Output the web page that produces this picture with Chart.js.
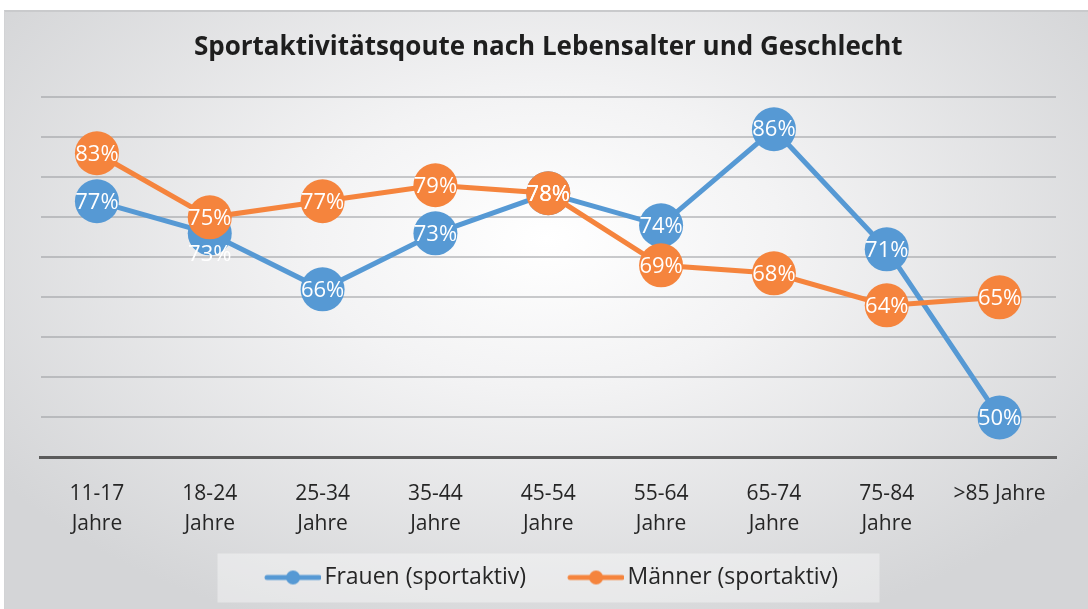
<!DOCTYPE html>
<html>
<head>
<meta charset="utf-8">
<script src="https://cdn.jsdelivr.net/npm/chart.js@4.4.1/dist/chart.umd.min.js"></script>
<style>
  html, body { margin: 0; padding: 0; background: #fff; }
  #frame {
    position: absolute; left: 4px; top: 10px; width: 1084px; height: 599px;
    background: radial-gradient(ellipse 62% 70% at 50% 38%, #ffffff 0%, #f3f3f4 35%, #d4d5d7 100%);
    border-top: 2px solid #c9cacc; border-left: 1px solid #d2d3d5; box-sizing: border-box;
  }
  canvas { display: block; }
</style>
</head>
<body>
<div id="frame"><canvas id="chart" width="1083" height="597"></canvas></div>
<script>
const ageGroups = [
  ['11-17', 'Jahre'], ['18-24', 'Jahre'], ['25-34', 'Jahre'], ['35-44', 'Jahre'],
  ['45-54', 'Jahre'], ['55-64', 'Jahre'], ['65-74', 'Jahre'], ['75-84', 'Jahre'], '>85 Jahre'
];
const frauen = [77, 73, 66, 73, 78, 74, 86, 71, 50];
const maenner = [83, 75, 77, 79, 78, 69, 68, 64, 65];

const BLUE = '#5699d4';
const ORANGE = '#f5843d';
const FONT = "'Open Sans'";

// legend symbol: line with a dot, drawn onto a small canvas
function legendSymbol(color) {
  const c = document.createElement('canvas');
  c.width = 96; c.height = 16;
  const g = c.getContext('2d');
  g.strokeStyle = color; g.fillStyle = color;
  g.lineWidth = 5; g.lineCap = 'round';
  g.beginPath(); g.moveTo(42, 8); g.lineTo(94, 8); g.stroke();
  g.beginPath(); g.arc(68, 8, 7, 0, Math.PI * 2); g.fill();
  return c;
}
const symbols = [legendSymbol(BLUE), legendSymbol(ORANGE)];

// the 73% label of Frauen sits below its point, like in the original
const labelShift = { '0-1': 20 };

// white percentage text in the middle of each point
const pointLabels = {
  id: 'pointLabels',
  afterDatasetsDraw(chart) {
    const ctx = chart.ctx;
    ctx.save();
    ctx.font = '22px ' + FONT;
    ctx.fillStyle = '#ffffff';
    ctx.textAlign = 'center';
    ctx.textBaseline = 'middle';
    chart.data.datasets.forEach((ds, di) => {
      const meta = chart.getDatasetMeta(di);
      meta.data.forEach((pt, i) => {
        const dy = labelShift[di + '-' + i] || 0;
        ctx.fillText(ds.data[i] + '%', pt.x, pt.y + dy + 1);
      });
    });
    ctx.restore();
  }
};

// light box behind the legend, title centred over the plot area
const legendBox = {
  id: 'legendBox',
  afterLayout(chart) {
    chart.titleBlock.left = chart.chartArea.left;
    chart.titleBlock.right = chart.chartArea.right;
  },
  beforeDraw(chart) {
    const lg = chart.legend;
    if (!lg || !lg.legendHitBoxes.length) return;
    const first = lg.legendHitBoxes[0];
    const last = lg.legendHitBoxes[lg.legendHitBoxes.length - 1];
    const cx = (first.left + 32 + last.left + last.width) / 2 - 3;
    const cy = first.top + first.height / 2;
    const ctx = chart.ctx;
    ctx.save();
    ctx.fillStyle = 'rgba(255,255,255,0.38)';
    ctx.fillRect(cx - 331, cy - 24, 662, 49);
    ctx.restore();
  }
};

new Chart(document.getElementById('chart'), {
  type: 'line',
  data: {
    labels: ageGroups,
    datasets: [{
      label: 'Frauen (sportaktiv)',
      data: frauen,
      borderColor: BLUE,
      backgroundColor: BLUE,
      borderWidth: 5,
      pointRadius: 22,
      pointHoverRadius: 22,
      pointBorderWidth: 0,
      order: 2,
      clip: false
    }, {
      label: 'Männer (sportaktiv)',
      data: maenner,
      borderColor: ORANGE,
      backgroundColor: ORANGE,
      borderWidth: 5,
      pointRadius: 22,
      pointHoverRadius: 22,
      pointBorderWidth: 0,
      order: 1,
      clip: false
    }]
  },
  options: {
    responsive: false,
    animation: false,
    layout: { padding: { left: 10, right: 32, top: 0, bottom: 10 } },
    plugins: {
      title: {
        display: true,
        text: 'Sportaktivitätsqoute nach Lebensalter und Geschlecht',
        color: '#1e1e1e',
        font: { family: FONT, size: 26, weight: 'bold', lineHeight: 1.2 },
        padding: { top: 20, bottom: 34 }
      },
      legend: {
        position: 'bottom',
        labels: {
          color: '#262626',
          font: { family: FONT, size: 23 },
          usePointStyle: true,
          pointStyleWidth: 80,
          padding: 10,
          sort: (a, b) => a.datasetIndex - b.datasetIndex,
          generateLabels: chart => chart.data.datasets.map((ds, i) => ({
            text: ds.label,
            pointStyle: symbols[i],
            fillStyle: ds.borderColor,
            strokeStyle: ds.borderColor,
            lineWidth: 0,
            fontColor: '#262626',
            datasetIndex: i,
            hidden: false
          }))
        }
      },
      tooltip: { enabled: false }
    },
    scales: {
      x: {
        offset: true,
        grid: { display: false },
        border: { display: true, color: '#5b5b5b', width: 3 },
        ticks: {
          color: '#262626',
          font: { family: FONT, size: 21, lineHeight: 1.4 },
          padding: 14,
          maxRotation: 0,
          autoSkip: false
        },
        afterFit: s => { s.height = 98.5; }
      },
      y: {
        min: 45,
        max: 90,
        ticks: { display: false, stepSize: 5 },
        grid: { color: 'rgba(150,151,156,0.5)', lineWidth: 2, drawTicks: false },
        border: { display: false },
        afterFit: s => { s.width = 25.5; }
      }
    }
  },
  plugins: [pointLabels, legendBox]
});
</script>
</body>
</html>
